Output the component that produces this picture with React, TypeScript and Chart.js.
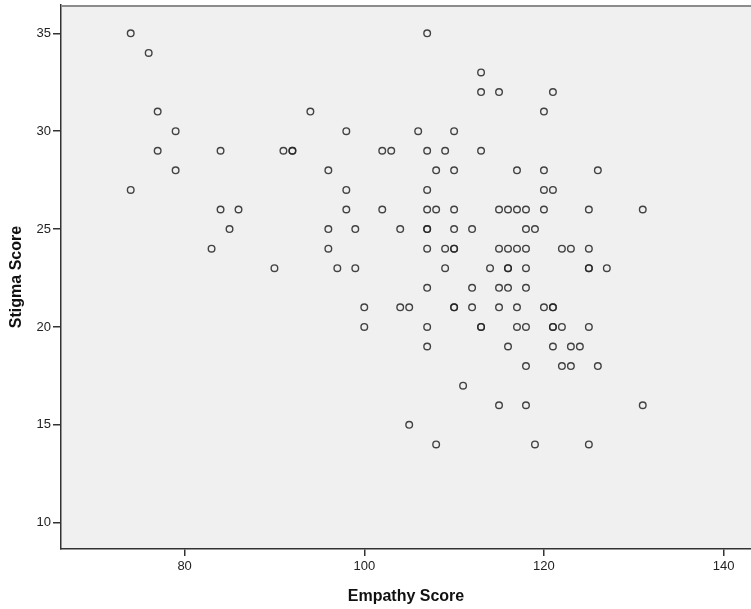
import React, { useEffect, useRef } from "react";
import { Chart, registerables } from "chart.js";

Chart.register(...registerables);

// Empathy Score (x) and Stigma Score (y)
const empathy: number[] = [
  74, 107,
  76,
  113,
  113, 115, 121,
  77, 94, 120,
  79, 98, 106, 110,
  77, 84, 91, 92, 92, 102, 103, 107, 109, 113,
  79, 96, 108, 110, 117, 120, 126,
  74, 98, 107, 120, 121,
  84, 86, 98, 102, 107, 108, 110, 115, 116, 117, 118, 120, 125, 131,
  85, 96, 99, 104, 107, 107, 110, 112, 118, 119,
  83, 96, 107, 109, 110, 110, 115, 116, 117, 118, 122, 123, 125,
  90, 97, 99, 109, 114, 116, 116, 118, 125, 125, 127,
  107, 112, 115, 116, 118,
  100, 104, 105, 110, 110, 112, 115, 117, 120, 121, 121,
  100, 107, 113, 113, 117, 118, 121, 121, 122, 125,
  107, 116, 121, 123, 124,
  118, 122, 123, 126,
  111,
  115, 118, 131,
  105,
  108, 119, 125,
];

const stigma: number[] = [
  35, 35,
  34,
  33,
  32, 32, 32,
  31, 31, 31,
  30, 30, 30, 30,
  29, 29, 29, 29, 29, 29, 29, 29, 29, 29,
  28, 28, 28, 28, 28, 28, 28,
  27, 27, 27, 27, 27,
  26, 26, 26, 26, 26, 26, 26, 26, 26, 26, 26, 26, 26, 26,
  25, 25, 25, 25, 25, 25, 25, 25, 25, 25,
  24, 24, 24, 24, 24, 24, 24, 24, 24, 24, 24, 24, 24,
  23, 23, 23, 23, 23, 23, 23, 23, 23, 23, 23,
  22, 22, 22, 22, 22,
  21, 21, 21, 21, 21, 21, 21, 21, 21, 21, 21,
  20, 20, 20, 20, 20, 20, 20, 20, 20, 20,
  19, 19, 19, 19, 19,
  18, 18, 18, 18,
  17,
  16, 16, 16,
  15,
  14, 14, 14,
];

const xTicks: number[] = [80, 100, 120, 140];
const yTicks: number[] = [10, 15, 20, 25, 30, 35];

const xTitle = "Empathy Score";
const yTitle = "Stigma Score";

const FONT = "'Liberation Sans', Arial, Helvetica, sans-serif";

const bgPlugin = {
  id: "plotBg",
  beforeDraw(chart: any) {
    const { ctx, chartArea: a } = chart;
    ctx.save();
    ctx.fillStyle = "#f0f0f0";
    ctx.fillRect(a.left, a.top, a.right - a.left, a.bottom - a.top);
    ctx.restore();
  },
  afterDraw(chart: any) {
    const { ctx, chartArea: a } = chart;
    ctx.save();
    ctx.strokeStyle = "#8c8c8c";
    ctx.lineWidth = 2;
    ctx.beginPath();
    ctx.moveTo(a.left, a.top + 1);
    ctx.lineTo(a.right, a.top + 1);
    ctx.stroke();
    ctx.restore();
  },
};

const zeroPad = (s: any) => {
  s.paddingLeft = 0;
  s.paddingRight = 0;
  s.paddingTop = 0;
  s.paddingBottom = 0;
};

export default function App() {
  const ref = useRef<HTMLCanvasElement | null>(null);

  useEffect(() => {
    if (!ref.current) return;
    const points = empathy.map((x, i) => ({ x, y: stigma[i] }));
    const chart = new Chart(ref.current, {
      type: "scatter",
      data: {
        datasets: [
          {
            data: points,
            pointRadius: 3.3,
            pointHoverRadius: 3.3,
            pointBorderWidth: 1.4,
            borderColor: "rgba(35,35,35,0.85)",
            pointBorderColor: "rgba(35,35,35,0.85)",
            backgroundColor: "rgba(0,0,0,0)",
            pointBackgroundColor: "rgba(0,0,0,0)",
          },
        ],
      },
      plugins: [bgPlugin],
      options: {
        responsive: false,
        animation: false,
        devicePixelRatio: 1,
        layout: {
          autoPadding: false,
          padding: { top: 5, right: 0, bottom: 0, left: 0 },
        },
        plugins: {
          legend: { display: false },
          tooltip: { enabled: false },
          title: { display: false },
        },
        scales: {
          x: {
            type: "linear",
            min: 66.24,
            max: 143.05,
            afterBuildTicks: (s: any) => {
              s.ticks = xTicks.map((v) => ({ value: v }));
            },
            afterFit: (s: any) => {
              s.height = 60;
              zeroPad(s);
            },
            grid: {
              display: true,
              drawOnChartArea: false,
              drawTicks: true,
              tickLength: 7,
              color: "#333",
              lineWidth: 1.5,
            },
            border: { display: true, color: "#333", width: 1.5 },
            ticks: {
              autoSkip: false,
              maxRotation: 0,
              padding: 3,
              color: "#222",
              font: { family: FONT, size: 13 },
              callback: (v: any) => String(v),
            },
            title: {
              display: true,
              text: xTitle,
              color: "#111",
              font: { family: FONT, size: 16, weight: "bold" },
              padding: { top: 0, bottom: 3 },
            },
          },
          y: {
            type: "linear",
            min: 8.657,
            max: 36.446,
            afterBuildTicks: (s: any) => {
              s.ticks = yTicks.map((v) => ({ value: v }));
            },
            afterFit: (s: any) => {
              s.width = 61;
              zeroPad(s);
            },
            grid: {
              display: true,
              drawOnChartArea: false,
              drawTicks: true,
              tickLength: 8,
              color: "#333",
              lineWidth: 1.5,
            },
            border: { display: true, color: "#333", width: 1.5 },
            ticks: {
              autoSkip: false,
              padding: 2,
              color: "#222",
              font: { family: FONT, size: 13 },
              callback: (v: any) => String(v),
            },
            title: {
              display: true,
              text: yTitle,
              color: "#111",
              font: { family: FONT, size: 16, weight: "bold" },
              padding: { top: 7, bottom: 0 },
            },
          },
        },
      },
    } as any);
    return () => chart.destroy();
  }, []);

  return (
    <div
      style={{
        position: "fixed",
        left: 0,
        top: 0,
        width: 751,
        height: 609,
        background: "#ffffff",
        overflow: "hidden",
      }}
    >
      <canvas
        ref={ref}
        width={751}
        height={609}
        style={{ width: 751, height: 609, display: "block" }}
      />
    </div>
  );
}
